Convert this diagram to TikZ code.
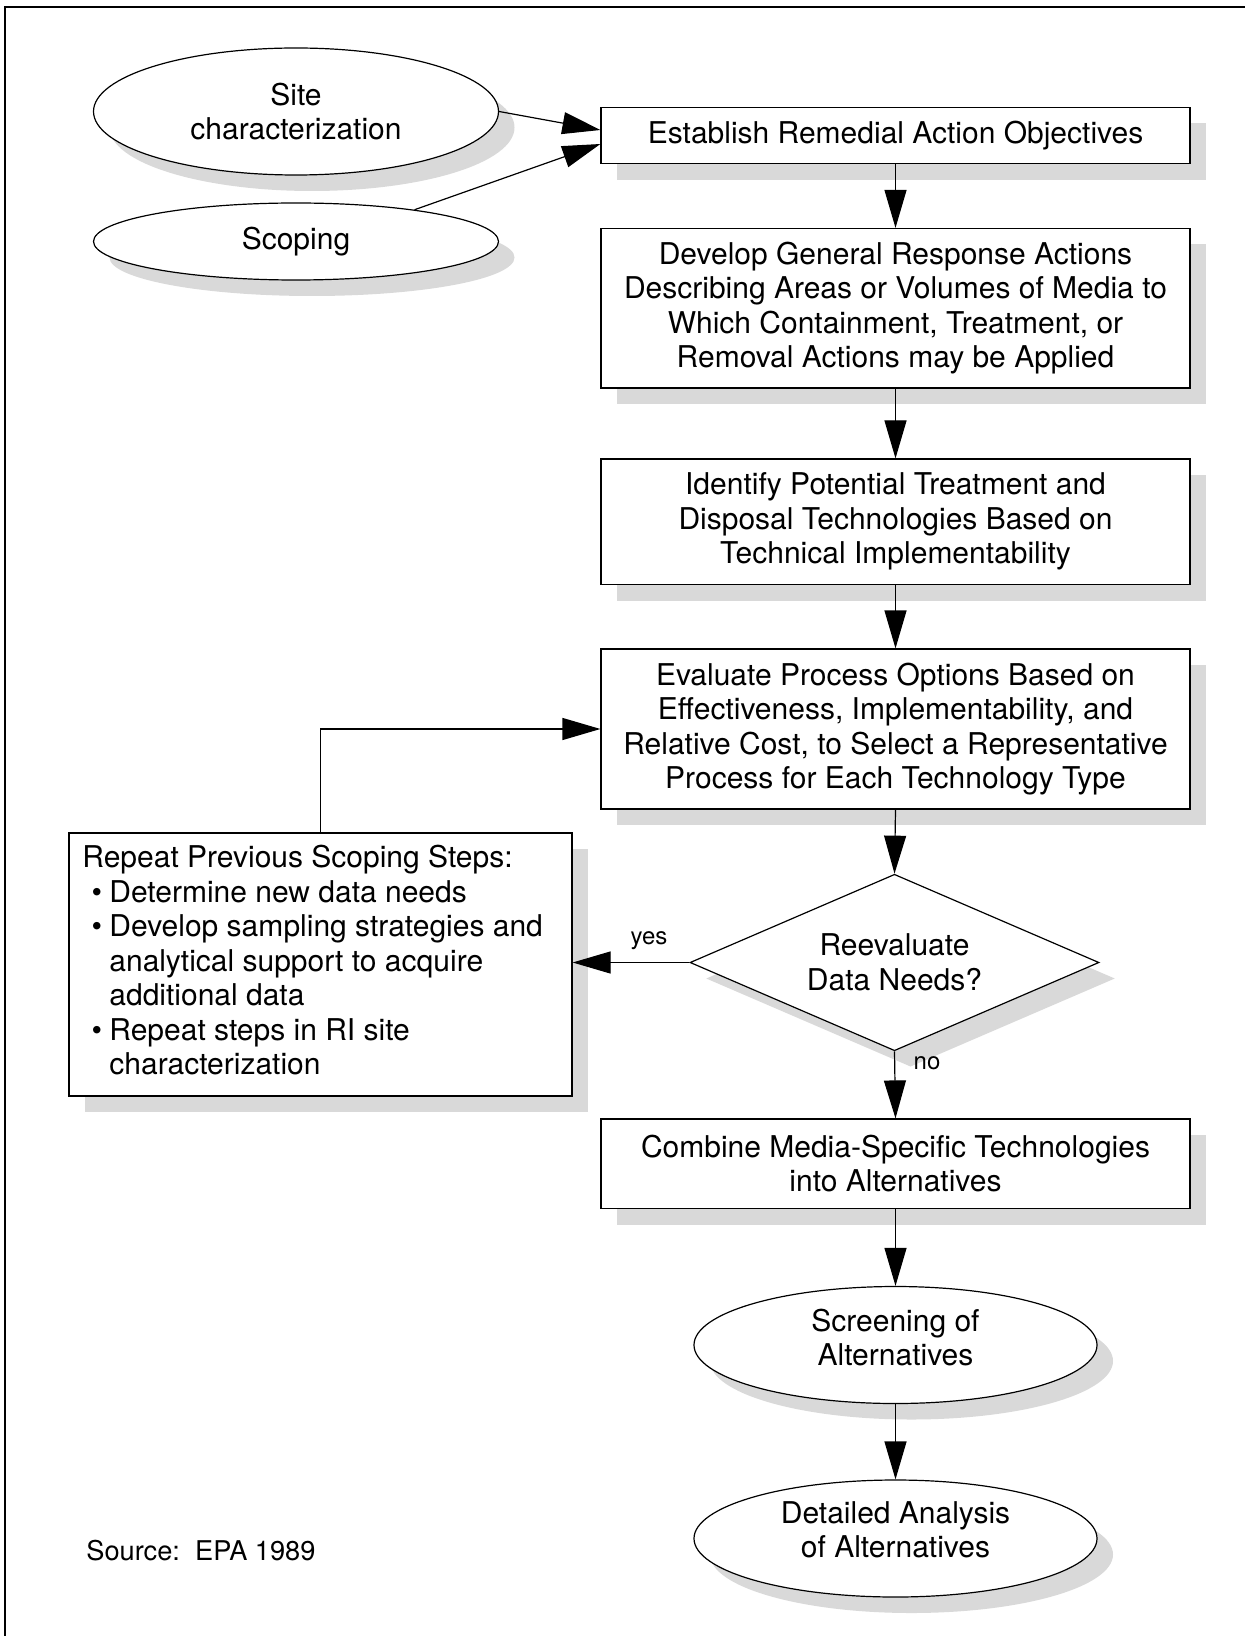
\documentclass[tikz,border=0pt]{standalone}
\usepackage{fontspec}
\setmainfont{TeX Gyre Heros}
\usetikzlibrary{arrows.meta,shapes.geometric,shadows}
\definecolor{shade}{HTML}{D9D9D9}
\begin{document}
\begin{tikzpicture}[x=0.5pt,y=-0.5pt,
  every node/.style={font=\fontsize{15}{17.25}\selectfont},
  sh/.style={drop shadow={shadow xshift=8pt,shadow yshift=-8pt,fill=shade,opacity=1,draw=none}},
  stepbox/.style={draw, fill=white, sh, inner sep=0pt, minimum width=294.5pt, align=center, line width=0.6pt},
  oval/.style={draw, ellipse, fill=white, sh, inner sep=0pt, align=center, line width=0.6pt},
  lbl/.style={align=center, inner sep=0pt},
  small/.style={inner sep=0pt, font=\fontsize{12}{14}\selectfont},
  arr/.style={-{Triangle[length=19pt,width=11pt]}, line width=0.6pt},
]
\useasboundingbox (0,0) rectangle (1244,1636);
\draw[line width=1.2pt] (5,1700) -- (5,7) -- (1300,7);

% top ovals
\node[oval, minimum width=202.5pt, minimum height=63.5pt] (site) at (296,111.5) {Site\\characterization};
\node[oval, minimum width=202.5pt, minimum height=38.5pt] (scop) at (296,241.5) {Scoping};

% main column
\node[stepbox, minimum height=28.25pt] (b1) at (895.5,135.5) {Establish Remedial Action Objectives};
\node[stepbox, minimum height=79.75pt] (b2) at (895.5,308.25) {Develop General Response Actions\\Describing Areas or Volumes of Media to\\Which Containment, Treatment, or\\Removal Actions may be Applied};
\node[stepbox, minimum height=62.75pt] (b3) at (895.5,521.75) {Identify Potential Treatment and\\Disposal Technologies Based on\\Technical Implementability};
\node[stepbox, minimum height=80pt] (b4) at (895.5,729) {Evaluate Process Options Based on\\Effectiveness, Implementability, and\\Relative Cost, to Select a Representative\\Process for Each Technology Type};
\node[draw, diamond, fill=white, sh, inner sep=0pt, aspect=2.3, minimum width=204.5pt, minimum height=88.25pt, align=center, line width=0.6pt] (dec) at (894.5,962.5) {Reevaluate\\Data Needs?};
\node[stepbox, minimum height=44.75pt] (b5) at (895.5,1163.75) {Combine Media-Specific Technologies\\into Alternatives};
\node[oval, minimum width=201.5pt, minimum height=58.5pt] (scr) at (895.5,1345) {};
\node[lbl] (scrt) at (895.5,1337.5) {Screening of\\Alternatives};
\node[oval, minimum width=201.5pt, minimum height=58.5pt] (det) at (895.5,1538.5) {};
\node[lbl] (dett) at (895.5,1530) {Detailed Analysis\\of Alternatives};

% left box
\node[stepbox, minimum width=251.5pt, minimum height=131.5pt] (rep) at (320.5,964.5) {};
\node[lbl, align=left, anchor=north west] (rept) at (82,845) {Repeat Previous Scoping Steps:\\
\hspace*{4.6pt}\makebox[8.9pt][l]{\textbullet}Determine new data needs\\
\hspace*{4.6pt}\makebox[8.9pt][l]{\textbullet}Develop sampling strategies and\\
\hspace*{13.5pt}analytical support to acquire\\
\hspace*{13.5pt}additional data\\
\hspace*{4.6pt}\makebox[8.9pt][l]{\textbullet}Repeat steps in RI site\\
\hspace*{13.5pt}characterization};

% connectors
\draw[arr] (site.east) -- ([yshift=2.75pt]b1.west);
\draw[arr] (scop.15) -- ([yshift=-4.25pt]b1.west);
\draw[arr] (b1.south) -- (b2.north);
\draw[arr] (b2.south) -- (b3.north);
\draw[arr] (b3.south) -- (b4.north);
\draw[arr] (b4.south) -- (dec.north);
\draw[arr] (dec.south) -- (b5.north);
\draw[arr] (b5.south) -- (scr.north);
\draw[arr] (scr.south) -- (det.north);
\draw[arr] (dec.west) -- (dec.west -| rep.east);
\draw[arr] (rep.north) |- (b4.west);

\node[small] (yes) at (649,941) {yes};
\node[small] (no) at (927,1063) {no};
\node[inner sep=0pt, anchor=west, font=\fontsize{13.6}{16}\selectfont] (src) at (86,1551) {Source:\ \ EPA 1989};
\end{tikzpicture}
\end{document}
